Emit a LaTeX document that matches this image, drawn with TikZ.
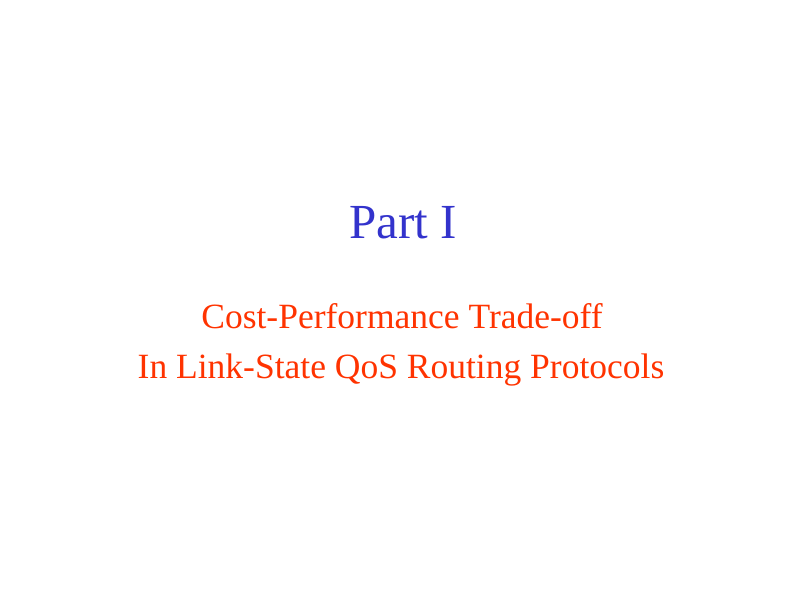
\documentclass[tikz,border=0pt]{standalone}
\usepackage{fontspec}
\setmainfont{Liberation Serif}
\definecolor{partblue}{RGB}{51,51,204}
\definecolor{titlered}{RGB}{255,51,0}
\begin{document}
\begin{tikzpicture}[x=1pt,y=1pt]
		\useasboundingbox (0,0) rectangle (800,600);
		\node[anchor=base, text=partblue, font=\fontsize{49}{59}\selectfont] (part) at (403,361) {Part I};
		\node[anchor=base, text=titlered, font=\fontsize{35.5}{43}\selectfont] (line1) at (402,271) {Cost-Performance Trade-off};
		\node[anchor=base, text=titlered, font=\fontsize{35.5}{43}\selectfont] (line2) at (401,221) {In Link-State QoS Routing Protocols};
		\end{tikzpicture}
\end{document}
